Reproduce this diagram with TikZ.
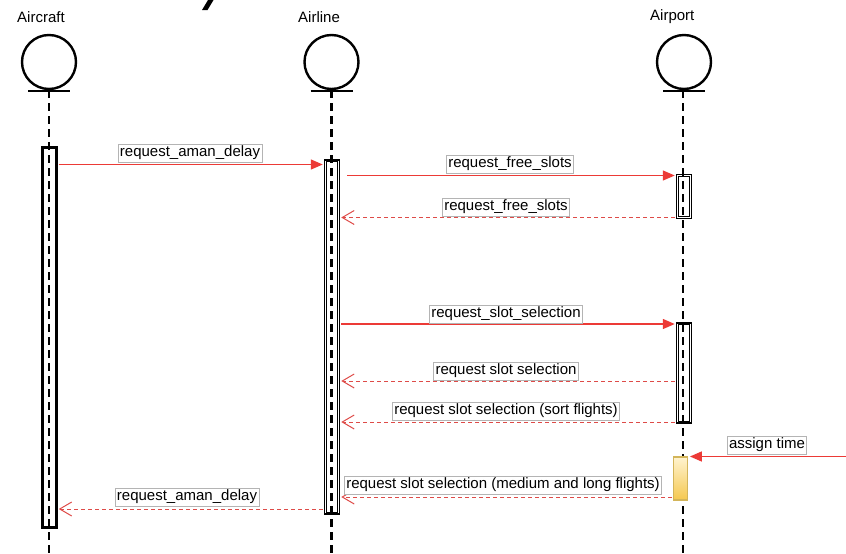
\documentclass[tikz,border=0pt]{standalone}
\usepackage{fontspec}
\setmainfont{Liberation Sans}
\usetikzlibrary{arrows.meta}

\definecolor{callred}{HTML}{EC3A36}
\definecolor{retred}{HTML}{DE4B48}
\definecolor{labelframe}{HTML}{B4B4B4}
\definecolor{timeframe}{HTML}{D3B55A}
\definecolor{timetop}{HTML}{FFF3CF}
\definecolor{timebottom}{HTML}{F5C850}

\tikzset{
  actorhead/.style={circle, draw, line width=2.4pt, minimum size=54pt, inner sep=0pt},
  actorbase/.style={line width=2.4pt},
  actorname/.style={anchor=west, font=\fontsize{15}{17}\selectfont, inner sep=0pt},
  lifeline/.style={line width=2.8pt, dash pattern=on 8pt off 5pt},
  actbox/.style={rectangle, draw, line width=1.5pt, inner sep=0pt, minimum width=15pt},
  actinner/.style={line width=0.8pt},
  timebox/.style={rectangle, draw=timeframe, line width=1.8pt, top color=timetop,
    bottom color=timebottom, inner sep=0pt, minimum width=14pt},
  msglabel/.style={fill=white, draw=labelframe, line width=0.5pt, inner sep=1.8pt,
    text height=11pt, text depth=3.5pt, font=\fontsize{15}{17}\selectfont},
  callmsg/.style={draw=callred, line width=1.5pt, -{Triangle[length=12pt,width=10pt]}},
  retmsg/.style={draw=retred, line width=1pt, dash pattern=on 4pt off 3pt,
    -{Straight Barb[length=12pt,width=14pt,line width=1pt]}}
}

\begin{document}
\begin{tikzpicture}[x=1pt,y=-1pt]
\useasboundingbox (0,0) rectangle (846,554);

% stray glyph fragment at the top edge
\fill (208,0) -- (213.5,0) -- (207.5,10) -- (202,10) -- cycle;

% actors
\node[actorhead] (hAircraft) at (49,62) {};
\node[actorhead] (hAirline)  at (331.5,62) {};
\node[actorhead] (hAirport)  at (684,62) {};

\node[actorname] (nAircraft) at (17,17) {Aircraft};
\node[actorname] (nAirline)  at (298,17) {Airline};
\node[actorname] (nAirport)  at (650,17) {Airport};

\foreach \h in {hAircraft,hAirline,hAirport}{
  \draw[actorbase] ([xshift=-21pt,yshift=-0.5pt]\h.south) -- ([xshift=21pt,yshift=-0.5pt]\h.south);
}

% activation bars (double frame: outer node border plus an inset line)
\node[actbox, minimum height=381pt] (aAircraft) at (49.5,337.5) {};
\node[actbox, minimum height=354pt] (aAirline)  at (332,337) {};
\node[actbox, minimum height=44pt]  (aPort1)    at (684,196.5) {};
\node[actbox, minimum height=100pt] (aPort2)    at (684,373) {};
\foreach \b in {aAircraft,aAirline,aPort1,aPort2}{
  \draw[actinner] ([shift={(2.6pt,-2.6pt)}]\b.north west) rectangle ([shift={(-2.6pt,2.6pt)}]\b.south east);
}

% lifelines down to the bottom edge, visible through the open bars
\coordinate (floor) at (0,556);
\draw[lifeline] (hAircraft.south) -- (hAircraft.south |- floor);
\draw[lifeline] (hAirline.south)  -- (hAirline.south |- floor);
\draw[lifeline] ([xshift=-1pt]hAirport.south) -- ([xshift=-1pt]hAirport.south |- floor);

% filled bar on the airport lifeline hides the line behind it
\node[timebox, minimum height=43pt] (aTime) at (680.5,478.5) {};

% message levels
\coordinate (y1) at (0,164.5);
\coordinate (y2) at (0,175.5);
\coordinate (y3) at (0,217.5);
\coordinate (y4) at (0,324);
\coordinate (y5) at (0,381);
\coordinate (y6) at (0,422);
\coordinate (y7) at (0,456.5);
\coordinate (y8) at (0,497);
\coordinate (y9) at (0,509);
\coordinate (offRight) at (848,456.5);

% messages
\draw[callmsg] ([xshift=0.8pt]aAircraft.east |- y1) -- ([xshift=-1pt]aAirline.west |- y1);
\node[msglabel] (l1) at (190,153) {request\_aman\_delay};

\draw[callmsg, shorten <=6pt] ([xshift=0.8pt]aAirline.east |- y2) -- ([xshift=-1pt]aPort1.west |- y2);
\node[msglabel] (l2) at (510,164) {request\_free\_slots};

\draw[retmsg] ([xshift=-1pt]aPort1.west |- y3) -- ([xshift=1pt]aAirline.east |- y3);
\node[msglabel] (l3) at (506,207) {request\_free\_slots};

\draw[callmsg] ([xshift=0.8pt]aAirline.east |- y4) -- ([xshift=-1pt]aPort2.west |- y4);
\node[msglabel] (l4) at (506,314) {request\_slot\_selection};

\draw[retmsg] ([xshift=-1pt]aPort2.west |- y5) -- ([xshift=1pt]aAirline.east |- y5);
\node[msglabel] (l5) at (506,371) {request slot selection};

\draw[retmsg] ([xshift=-1pt]aPort2.west |- y6) -- ([xshift=1pt]aAirline.east |- y6);
\node[msglabel] (l6) at (506,411) {request slot selection (sort flights)};

\draw[callmsg] (offRight) -- ([xshift=1.5pt]aTime.east |- y7);
\node[msglabel] (l7) at (767,445) {assign time};

\draw[retmsg] ([xshift=-1pt]aTime.west |- y8) -- ([xshift=1pt]aAirline.east |- y8);
\node[msglabel] (l8) at (503,485) {request slot selection (medium and long flights)};

\draw[retmsg] ([xshift=-1pt]aAirline.west |- y9) -- ([xshift=1pt]aAircraft.east |- y9);
\node[msglabel] (l9) at (187,497) {request\_aman\_delay};
\end{tikzpicture}
\end{document}
